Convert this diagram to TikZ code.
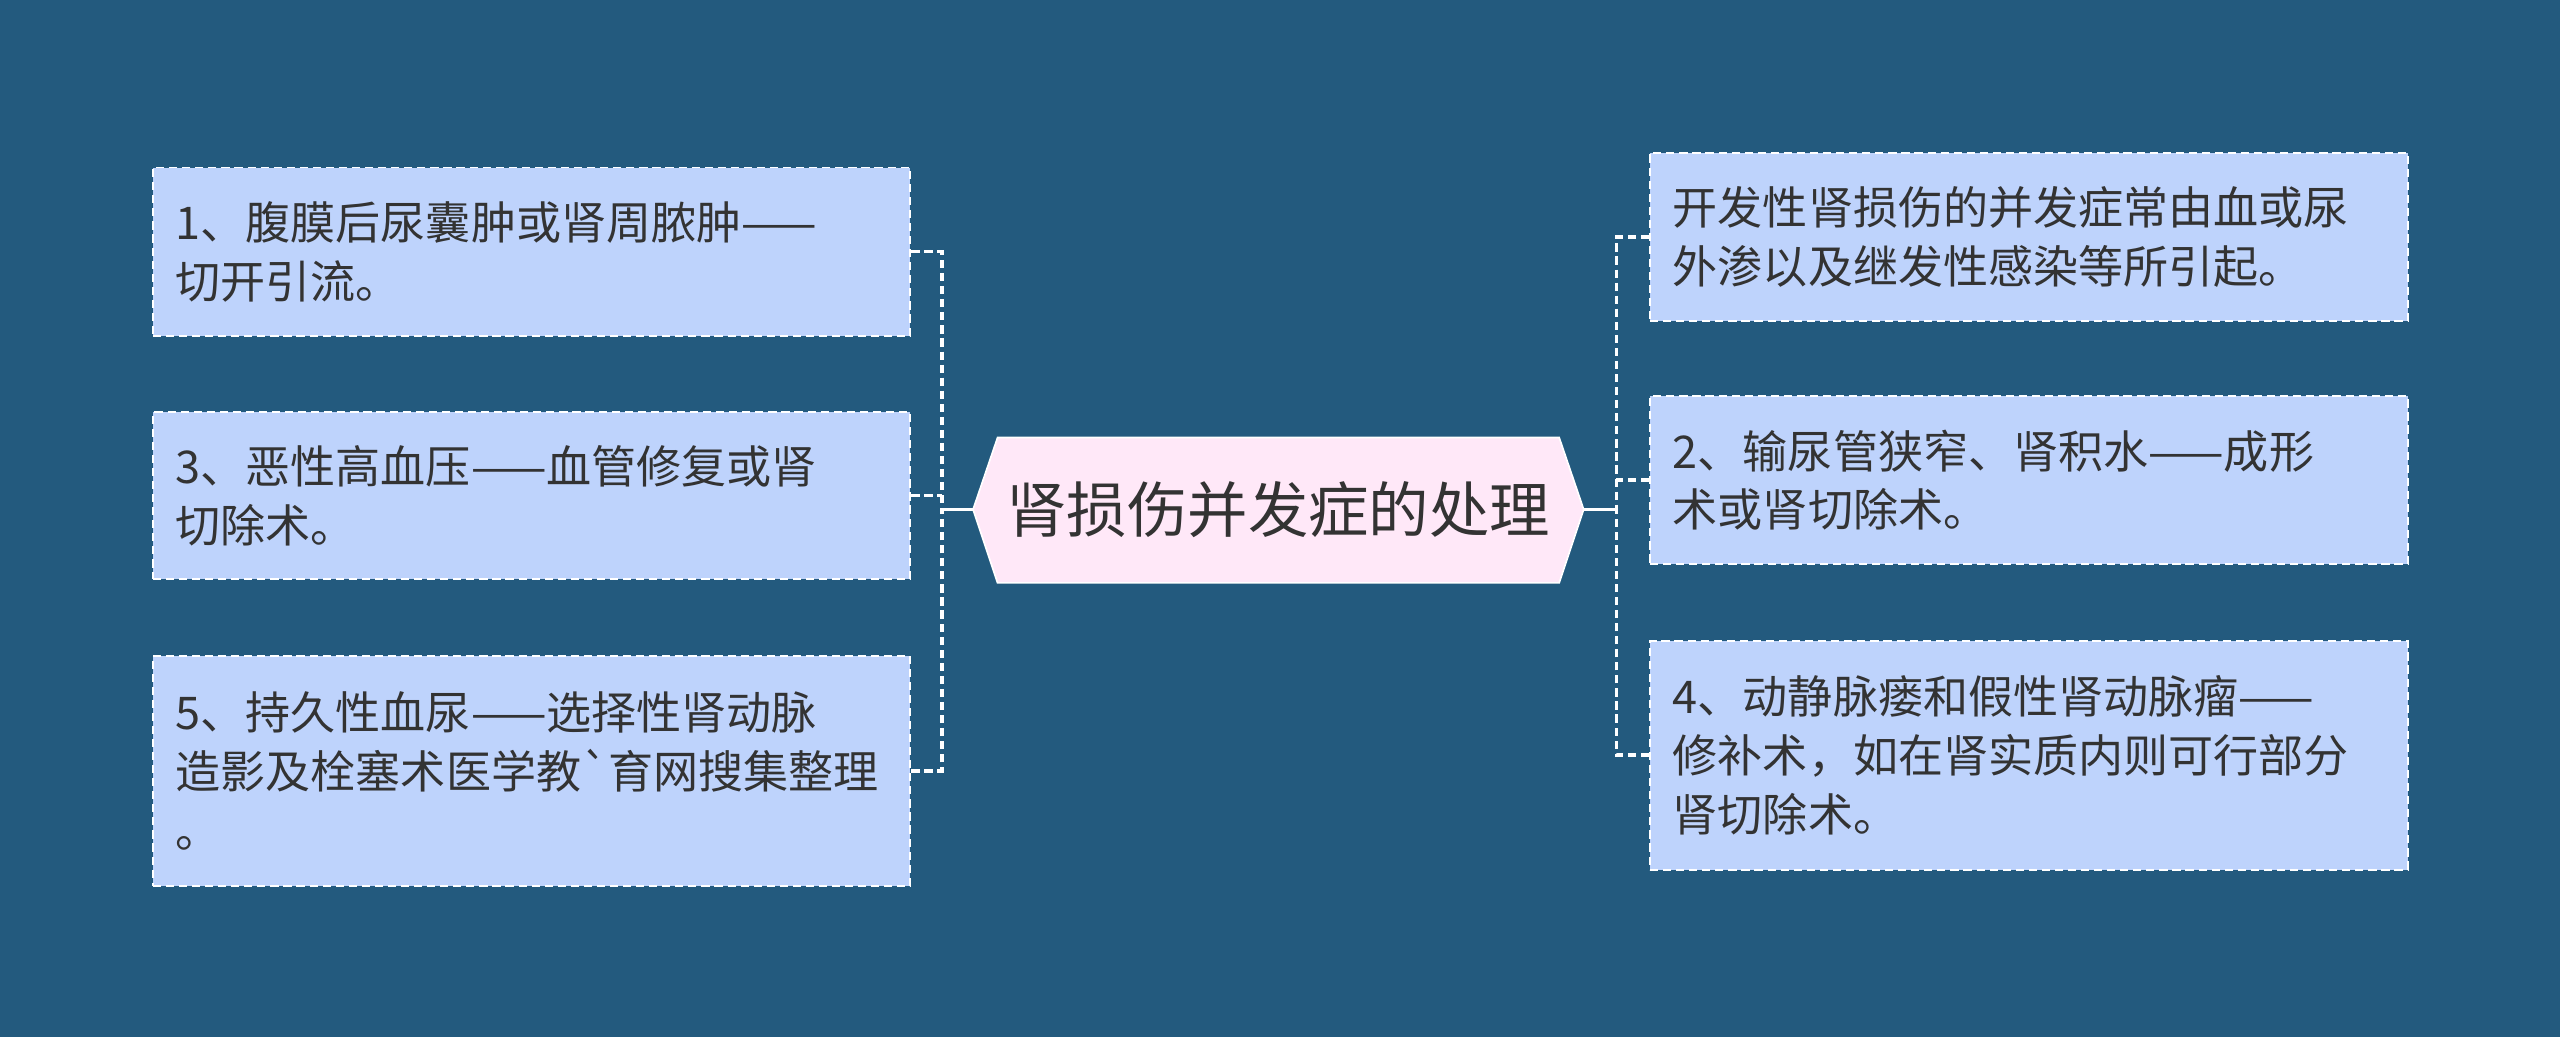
\documentclass[tikz,border=0pt]{standalone}
\usepackage{fontspec}
\setmainfont{Noto Sans CJK SC}
\definecolor{bg}{HTML}{235A7E}
\definecolor{boxc}{HTML}{BED3FC}
\definecolor{cen}{HTML}{FFE8F8}
\definecolor{txt}{HTML}{333333}
\begin{document}
\begin{tikzpicture}[x=1pt,y=-1pt,
  leaf/.style={draw=white,dash pattern=on 5pt off 3pt,line width=1.2pt,fill=boxc,text=txt,align=left,anchor=north west,inner xsep=14pt,inner ysep=0pt,font=\fontsize{27.6}{36}\selectfont,text width=436pt},
  conn/.style={draw=white,dash pattern=on 5pt off 3pt,line width=2.2pt}]
\fill[bg] (0,0) rectangle (1568,635);
\useasboundingbox (0,0) rectangle (1568,635);
% leaves
\node[leaf,minimum height=103pt] (l1) at (93,102) {1、腹膜后尿囊肿或肾周脓肿——\\切开引流。};
\node[leaf,minimum height=102pt] (l2) at (93,252) {3、恶性高血压——血管修复或肾\\切除术。};
\node[leaf,minimum height=141pt] (l3) at (93,401) {5、持久性血尿——选择性肾动脉\\造影及栓塞术医学教\textasciigrave 育网搜集整理\\。};
\node[leaf,minimum height=103pt] (r1) at (1010,93) {开发性肾损伤的并发症常由血或尿\\外渗以及继发性感染等所引起。};
\node[leaf,minimum height=103pt] (r2) at (1010,242) {2、输尿管狭窄、肾积水——成形\\术或肾切除术。};
\node[leaf,minimum height=140pt] (r3) at (1010,392) {4、动静脉瘘和假性肾动脉瘤——\\修补术，如在肾实质内则可行部分\\肾切除术。};
% center
\fill[cen,draw=white,line width=1pt] (611,268) -- (955,268) -- (970,312) -- (955,357) -- (611,357) -- (596,312) -- cycle;
\node[text=txt,font=\fontsize{37}{42}\selectfont] (c) at (783,312) {肾损伤并发症的处理};
\coordinate (cl) at (596,312);
\coordinate (cr) at (970,312);
\coordinate (jl) at (577,312);
\coordinate (jr) at (990,312);
\draw[white,line width=2.2pt] (cl) -- (jl);
\draw[white,line width=2.2pt] (cr) -- (jr);
\draw[conn] (l1.east) -| (jl);
\draw[conn] (l3.east) -| (jl);
\draw[conn] (l2.east) -- (l2.east -| jl);
\draw[conn] (r1.west) -| (jr);
\draw[conn] (r3.west) -| (jr);
\draw[conn] (r2.west) -- (r2.west -| jr);
\end{tikzpicture}
\end{document}
